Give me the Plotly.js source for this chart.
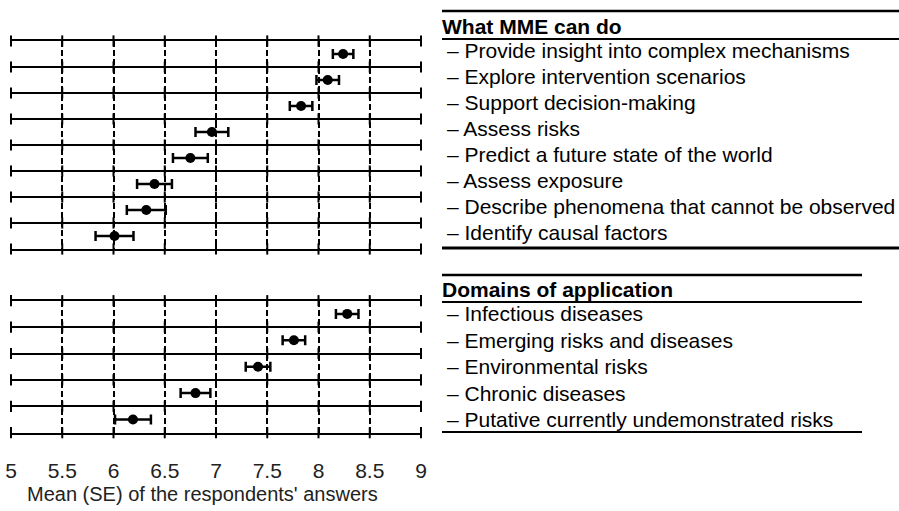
<!DOCTYPE html>
<html><head><meta charset="utf-8">
<script src="https://cdn.plot.ly/plotly-3.0.1.min.js"></script>
<style>html,body{margin:0;padding:0;background:#fff}</style>
</head><body><div id="chart" style="width:899px;height:511px"></div>
<script>
const topTitle = "What MME can do";
const topLabels = [
  "– Provide insight into complex mechanisms",
  "– Explore intervention scenarios",
  "– Support decision-making",
  "– Assess risks",
  "– Predict a future state of the world",
  "– Assess exposure",
  "– Describe phenomena that cannot be observed",
  "– Identify causal factors"
];
const topMeans = [8.24, 8.09, 7.83, 6.96, 6.75, 6.40, 6.32, 6.01];
const topSE    = [0.10, 0.11, 0.11, 0.16, 0.17, 0.17, 0.19, 0.185];

const bottomTitle = "Domains of application";
const bottomLabels = [
  "– Infectious diseases",
  "– Emerging risks and diseases",
  "– Environmental risks",
  "– Chronic diseases",
  "– Putative currently undemonstrated risks"
];
const bottomMeans = [8.28, 7.76, 7.41, 6.80, 6.19];
const bottomSE    = [0.11, 0.11, 0.12, 0.145, 0.175];

const xTicks    = [5, 5.5, 6, 6.5, 7, 7.5, 8, 8.5, 9];
const xTickText = ["5", "5.5", "6", "6.5", "7", "7.5", "8", "8.5", "9"];
const xTitle = "Mean (SE) of the respondents' answers";

// ---- geometry helpers (page pixels -> paper fractions) ----
const W = 899, H = 511, ML = 11, MR = 478;
const PW = W - ML - MR;
const px2x = p => (p - ML) / PW;
const px2y = p => 1 - p / H;
const FONT = "Liberation Sans, Arial, sans-serif";

const idx = arr => arr.map((_, i) => i + 1);
const bounds = n => Array.from({length: n + 1}, (_, i) => i + 0.5);

function crossTicks(n, xa, ya) {
  const xs = [], ys = [];
  bounds(n).forEach(b => xTicks.forEach(t => { xs.push(t); ys.push(b); }));
  return {x: xs, y: ys, xaxis: xa, yaxis: ya, type: 'scatter', mode: 'markers',
    marker: {symbol: 'line-ns', size: 8, line: {width: 2, color: '#000'}, color: '#000'},
    hoverinfo: 'skip', showlegend: false, cliponaxis: false};
}

function points(means, se, xa, ya) {
  return {x: means, y: idx(means), xaxis: xa, yaxis: ya, type: 'scatter', mode: 'markers',
    marker: {size: 10, color: '#000'},
    error_x: {type: 'data', array: se, visible: true, color: '#000', thickness: 2.5, width: 5},
    showlegend: false, cliponaxis: false};
}

const data = [
  crossTicks(topMeans.length, 'x', 'y'),
  crossTicks(bottomMeans.length, 'x2', 'y2'),
  points(topMeans, topSE, 'x', 'y'),
  points(bottomMeans, bottomSE, 'x2', 'y2')
];

const xBase = {range: [5, 9], tickvals: xTicks, ticktext: xTickText, showgrid: true,
  gridcolor: '#000', gridwidth: 2, griddash: '6px,3px', zeroline: false,
  showline: true, mirror: true, linecolor: '#000', linewidth: 2,
  ticks: '', fixedrange: true};
const yBase = {showticklabels: false, showgrid: true, gridcolor: '#000', gridwidth: 2,
  zeroline: false, showline: false, ticks: '', fixedrange: true};

const annotations = [];
topLabels.forEach((t, i) => annotations.push({text: t, xref: 'paper', yref: 'y', x: px2x(445), y: i + 1,
  xanchor: 'left', yanchor: 'middle', yshift: 3, showarrow: false, font: {size: 21, color: '#000', family: FONT}}));
bottomLabels.forEach((t, i) => annotations.push({text: t, xref: 'paper', yref: 'y2', x: px2x(445), y: i + 1,
  xanchor: 'left', yanchor: 'middle', yshift: 0, showarrow: false, font: {size: 21, color: '#000', family: FONT}}));
annotations.push({text: '<b>' + topTitle + '</b>', xref: 'paper', yref: 'paper', x: px2x(440), y: px2y(26),
  xanchor: 'left', yanchor: 'middle', showarrow: false, font: {size: 21, color: '#000', family: FONT}});
annotations.push({text: '<b>' + bottomTitle + '</b>', xref: 'paper', yref: 'paper', x: px2x(440), y: px2y(289),
  xanchor: 'left', yanchor: 'middle', showarrow: false, font: {size: 21, color: '#000', family: FONT}});
annotations.push({text: xTitle, xref: 'paper', yref: 'paper', x: px2x(202), y: px2y(494),
  xanchor: 'center', yanchor: 'middle', showarrow: false, font: {size: 20, color: '#222', family: FONT}});

const hline = (x0, x1, y, w) => ({type: 'line', xref: 'paper', yref: 'paper',
  x0: px2x(x0), x1: px2x(x1), y0: px2y(y), y1: px2y(y), line: {color: '#000', width: w}});
const shapes = [
  hline(442, 905, 11, 2.5), hline(442, 905, 39, 2), hline(442, 905, 248, 3),
  hline(442, 862, 275, 2.5), hline(442, 862, 302, 2), hline(442, 862, 432, 2)
];

const layout = {
  width: W, height: H, margin: {l: ML, r: MR, t: 0, b: 0},
  paper_bgcolor: '#fff', plot_bgcolor: '#fff', showlegend: false,
  font: {family: FONT, color: '#000', size: 21},
  xaxis: Object.assign({}, xBase, {anchor: 'y', showticklabels: false}),
  yaxis: Object.assign({}, yBase, {anchor: 'x', domain: [px2y(249), px2y(41)],
    range: [topMeans.length + 0.5, 0.5], tickvals: bounds(topMeans.length)}),
  xaxis2: Object.assign({}, xBase, {anchor: 'y2', showticklabels: true,
    tickfont: {size: 21, color: '#222', family: FONT}, ticklabelstandoff: 18}),
  yaxis2: Object.assign({}, yBase, {anchor: 'x2', domain: [px2y(432.7), px2y(300.7)],
    range: [bottomMeans.length + 0.5, 0.5], tickvals: bounds(bottomMeans.length)}),
  annotations: annotations, shapes: shapes
};

Plotly.newPlot('chart', data, layout, {staticPlot: true, displayModeBar: false});
</script></body></html>
